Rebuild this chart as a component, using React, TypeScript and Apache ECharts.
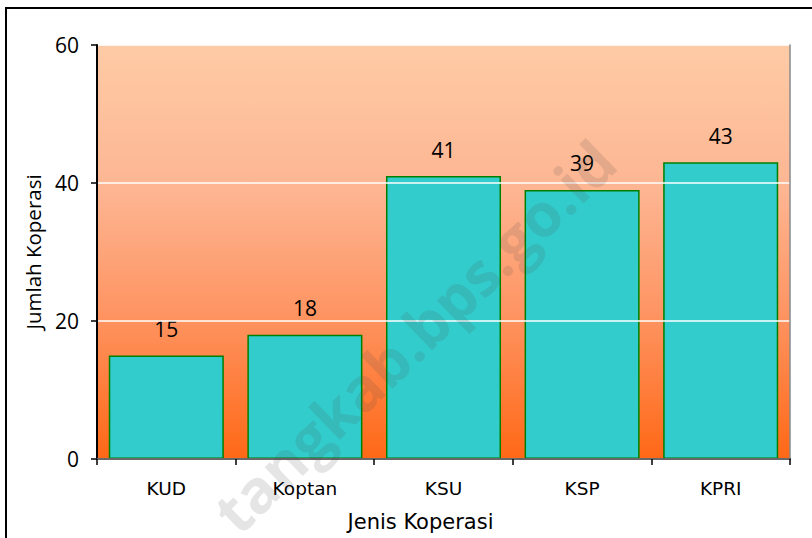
import React, { useEffect, useRef } from "react";
import * as echarts from "echarts";

const categories = ["KUD", "Koptan", "KSU", "KSP", "KPRI"];
const values = [15, 18, 41, 39, 43];
const yTicks = { min: 0, max: 60, interval: 20 };
const xName = "Jenis Koperasi";
const yName = "Jumlah Koperasi";
const watermark = "tangkab.bps.go.id";

const FONT = "'Open Sans', 'Noto Sans', sans-serif";
const XFONT = "DejaVu Sans";

export default function App() {
  const ref = useRef<HTMLDivElement>(null);
  useEffect(() => {
    document.body.style.margin = "0";
    const chart = echarts.init(ref.current!, null, { renderer: "svg" });
    chart.setOption({
      animation: false,
      backgroundColor: "#ffffff",
      textStyle: { fontFamily: FONT },
      grid: {
        left: 97,
        right: 22,
        top: 45,
        bottom: 79,
        show: true,
        borderWidth: 0,
        backgroundColor: new echarts.graphic.LinearGradient(0, 0, 0, 1, [
          { offset: 0, color: "#FECBA6" },
          { offset: 0.35, color: "#FDB592" },
          { offset: 0.65, color: "#FE9462" },
          { offset: 1, color: "#FF6816" },
        ]),
      },
      xAxis: [
        {
          type: "category",
          data: categories,
          boundaryGap: true,
          axisLine: { show: true, lineStyle: { color: "#000", width: 2 } },
          axisTick: { show: true, alignWithLabel: false, length: 6, lineStyle: { color: "#000", width: 1.5 } },
          axisLabel: { color: "#000", fontSize: 18.5, margin: 20, fontFamily: XFONT },
          name: xName,
          nameLocation: "middle",
          nameGap: 52,
          nameTextStyle: { color: "#000", fontSize: 21, fontFamily: XFONT, padding: [0, 46, 0, 0] },
          z: 5,
        },
        {
          type: "category",
          data: categories,
          position: "top",
          axisLine: { show: true, lineStyle: { color: "#8a8a8a", width: 1.5 } },
          axisTick: { show: false },
          axisLabel: { show: false },
          z: 5,
        },
      ],
      yAxis: [
        {
          type: "value",
          min: yTicks.min,
          max: yTicks.max,
          interval: yTicks.interval,
          axisLine: { show: true, lineStyle: { color: "#000", width: 2 } },
          axisTick: { show: true, length: 6, lineStyle: { color: "#000", width: 1.5 } },
          axisLabel: { color: "#000", fontSize: 21, margin: 18, fontFamily: FONT },
          splitLine: { show: true, lineStyle: { color: "#ffffff", width: 1.5 } },
          name: yName,
          nameLocation: "middle",
          nameGap: 54,
          nameRotate: 90,
          nameTextStyle: { color: "#000", fontSize: 20.5, fontFamily: FONT },
          z: 5,
        },
        {
          type: "value",
          min: yTicks.min,
          max: yTicks.max,
          interval: yTicks.interval,
          position: "right",
          axisLine: { show: true, lineStyle: { color: "#8a8a8a", width: 1.5 } },
          axisTick: { show: false },
          axisLabel: { show: false },
          splitLine: { show: false },
          z: 5,
        },
      ],
      series: [
        {
          type: "bar",
          data: values,
          xAxisIndex: 0,
          yAxisIndex: 0,
          barCategoryGap: "17%",
          itemStyle: { color: "#33CCCC", borderColor: "#008000", borderWidth: 1.5 },
          label: {
            show: true,
            position: "top",
            distance: 16,
            color: "#000",
            fontSize: 21,
            fontFamily: FONT,
          },
          z: 2,
        },
      ],
      graphic: [
        {
          type: "rect",
          shape: { x: 6, y: 8, width: 840, height: 560 },
          style: { fill: "none", stroke: "#000", lineWidth: 2 },
          z: 10,
          silent: true,
        },
        {
          type: "text",
          x: 414,
          y: 336,
          rotation: 0.77,
          style: {
            text: watermark,
            fontSize: 60,
            fontWeight: "bold",
            fontFamily: "'Open Sans', sans-serif",
            fill: "rgba(70,70,70,0.14)",
            align: "center",
            verticalAlign: "middle",
          },
          z: 20,
          silent: true,
        },
      ],
    });
    return () => chart.dispose();
  }, []);
  return <div ref={ref} style={{ width: 812, height: 538 }} />;
}
